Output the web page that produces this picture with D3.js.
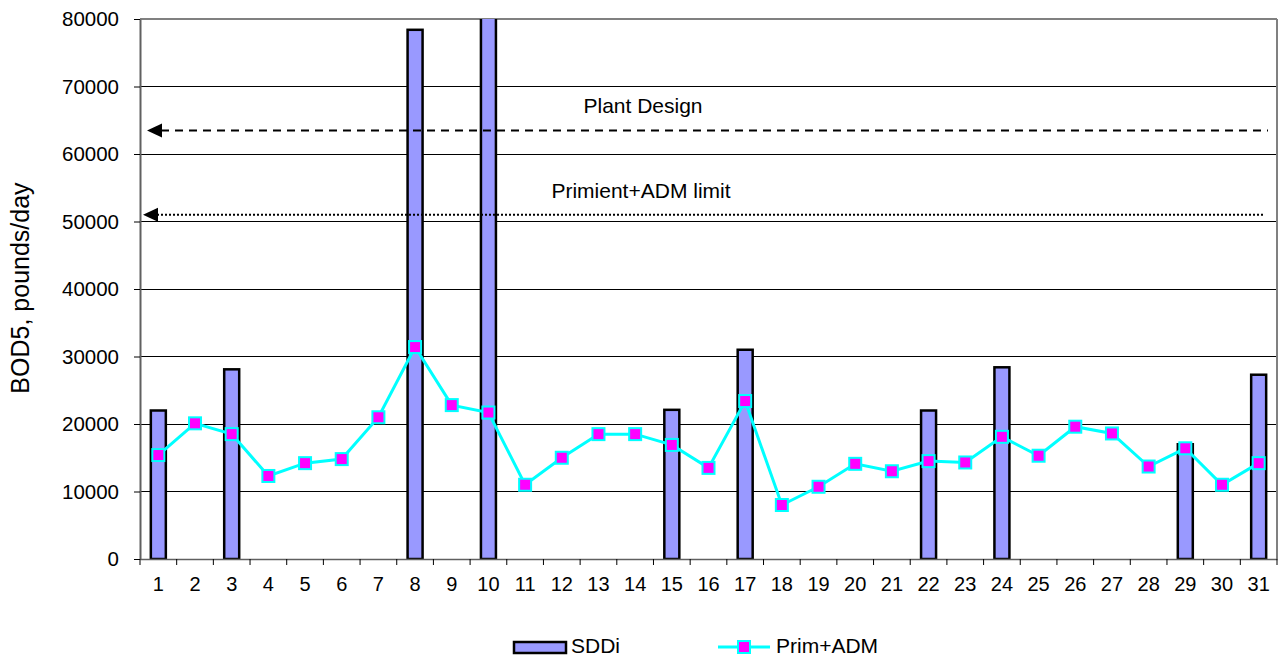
<!DOCTYPE html>
<html><head><meta charset="utf-8">
<script src="https://cdn.jsdelivr.net/npm/d3@7"></script>
<style>body{margin:0;background:#fff}svg{display:block;font-family:"Liberation Sans",Arial,sans-serif}</style>
</head><body>
<svg id="chart" width="1286" height="660"></svg>
<script>
const days = d3.range(1, 32).map(String);
const sddi = [22000,null,28100,null,null,null,null,78400,null,86000,null,null,null,null,22100,null,31000,null,null,null,null,22000,null,28400,null,null,null,null,17000,null,27300];
const primAdm = [15400,20100,18500,12300,14200,14800,21000,31400,22800,21700,11000,15000,18500,18500,16900,13500,23400,8000,10700,14100,13000,14500,14300,18100,15300,19600,18600,13700,16400,11000,14200];
const yTicks = [0,10000,20000,30000,40000,50000,60000,70000,80000];
const refLines = [
  {label:"Plant Design", value:63500, dash:"8,6", width:2},
  {label:"Primient+ADM limit", value:51000, dash:"2,2", width:2}
];
const seriesNames = ["SDDi","Prim+ADM"];

const svg = d3.select("#chart");
const L = 140, R = 1277, T = 19, B = 559;
const x = d3.scaleBand().domain(days).range([L, R]);
const y = d3.scaleLinear().domain([0, 80000]).range([B, T]);

svg.append("defs").append("clipPath").attr("id","clip")
  .append("rect").attr("x",L).attr("y",T).attr("width",R-L).attr("height",B-T);

// gridlines
svg.append("g").selectAll("line").data(yTicks.filter(d=>d>0 && d<80000)).join("line")
  .attr("x1",L).attr("x2",R).attr("y1",d=>y(d)).attr("y2",d=>y(d))
  .attr("stroke","#000").attr("stroke-width",1).attr("shape-rendering","crispEdges");

// border top/right
svg.append("line").attr("x1",L).attr("x2",R).attr("y1",y(80000)).attr("y2",y(80000)).attr("stroke","#808080").attr("stroke-width",2);
svg.append("line").attr("x1",R).attr("x2",R).attr("y1",T).attr("y2",B).attr("stroke","#808080").attr("stroke-width",2);

// bars
const bw = 15;
svg.append("g").attr("clip-path","url(#clip)").selectAll("rect")
  .data(days.map((d,i)=>({d, v:sddi[i]})).filter(o=>o.v!=null)).join("rect")
  .attr("x",o=>x(o.d)+x.bandwidth()/2-bw/2).attr("width",bw)
  .attr("y",o=>y(o.v)).attr("height",o=>B-y(o.v))
  .attr("fill","#9999FF").attr("stroke","#000").attr("stroke-width",2.5);

// ref lines with arrows
const refEnds = [[147,1268],[143,1263]];
refLines.forEach((r,i)=>{
  svg.append("line").attr("x1",refEnds[i][0]+14).attr("x2",refEnds[i][1])
    .attr("y1",y(r.value)).attr("y2",y(r.value))
    .attr("stroke","#000").attr("stroke-width",r.width).attr("stroke-dasharray",r.dash);
  svg.append("path").attr("d",`M${refEnds[i][0]},${y(r.value)} l15,-7 l0,14 Z`).attr("fill","#000");
});
svg.append("text").attr("x",643).attr("y",113).attr("text-anchor","middle").attr("font-size",21).text(refLines[0].label);
svg.append("text").attr("x",641).attr("y",198).attr("text-anchor","middle").attr("font-size",21).text(refLines[1].label);

// line series
const cx = d=>x(d)+x.bandwidth()/2;
const pts = days.map((d,i)=>[cx(d), y(primAdm[i])]);
svg.append("path").attr("d",d3.line()(pts)).attr("fill","none").attr("stroke","#00FFFF").attr("stroke-width",3);
svg.append("g").selectAll("rect").data(pts).join("rect")
  .attr("x",p=>p[0]-6).attr("y",p=>p[1]-6).attr("width",12).attr("height",12)
  .attr("fill","#FF00FF").attr("stroke","#00FFFF").attr("stroke-width",2);

// y axis
const ya = svg.append("g").attr("transform",`translate(${L},0)`)
  .call(d3.axisLeft(y).tickValues(yTicks).tickSize(6).tickSizeOuter(0).tickPadding(15).tickFormat(d3.format("d")));
ya.select(".domain").attr("stroke","#606060").attr("stroke-width",2);
ya.selectAll(".tick line").attr("stroke","#000");
ya.selectAll("text").attr("font-size",20.5).attr("font-family","Liberation Sans, Arial, sans-serif").attr("fill","#000");

// x axis
const xa = svg.append("g").attr("transform",`translate(0,${B})`)
  .call(d3.axisBottom(x).tickSize(0).tickPadding(0));
xa.select(".domain").attr("stroke","#606060").attr("stroke-width",1.5);
xa.selectAll("text").attr("font-size",20).attr("font-family","Liberation Sans, Arial, sans-serif").attr("fill","#000")
  .attr("dy",null).attr("y",32);
svg.append("g").selectAll("line").data(days.concat(["end"])).join("line")
  .attr("x1",(d,i)=>L+i*x.bandwidth()).attr("x2",(d,i)=>L+i*x.bandwidth())
  .attr("y1",B).attr("y2",B+6).attr("stroke","#000");

// y title
svg.append("text").attr("transform","translate(29,288) rotate(-90)").attr("text-anchor","middle")
  .attr("font-size",25).text("BOD5, pounds/day");

// legend
svg.append("rect").attr("x",514).attr("y",642).attr("width",52).attr("height",11)
  .attr("fill","#9999FF").attr("stroke","#000").attr("stroke-width",2.5);
svg.append("text").attr("x",571).attr("y",653).attr("font-size",21).text(seriesNames[0]);
svg.append("line").attr("x1",718).attr("x2",770).attr("y1",647).attr("y2",647).attr("stroke","#00FFFF").attr("stroke-width",3);
svg.append("rect").attr("x",738).attr("y",641).attr("width",12).attr("height",12)
  .attr("fill","#FF00FF").attr("stroke","#00FFFF").attr("stroke-width",2);
svg.append("text").attr("x",776).attr("y",653).attr("font-size",21).text(seriesNames[1]);
</script>
</body></html>
